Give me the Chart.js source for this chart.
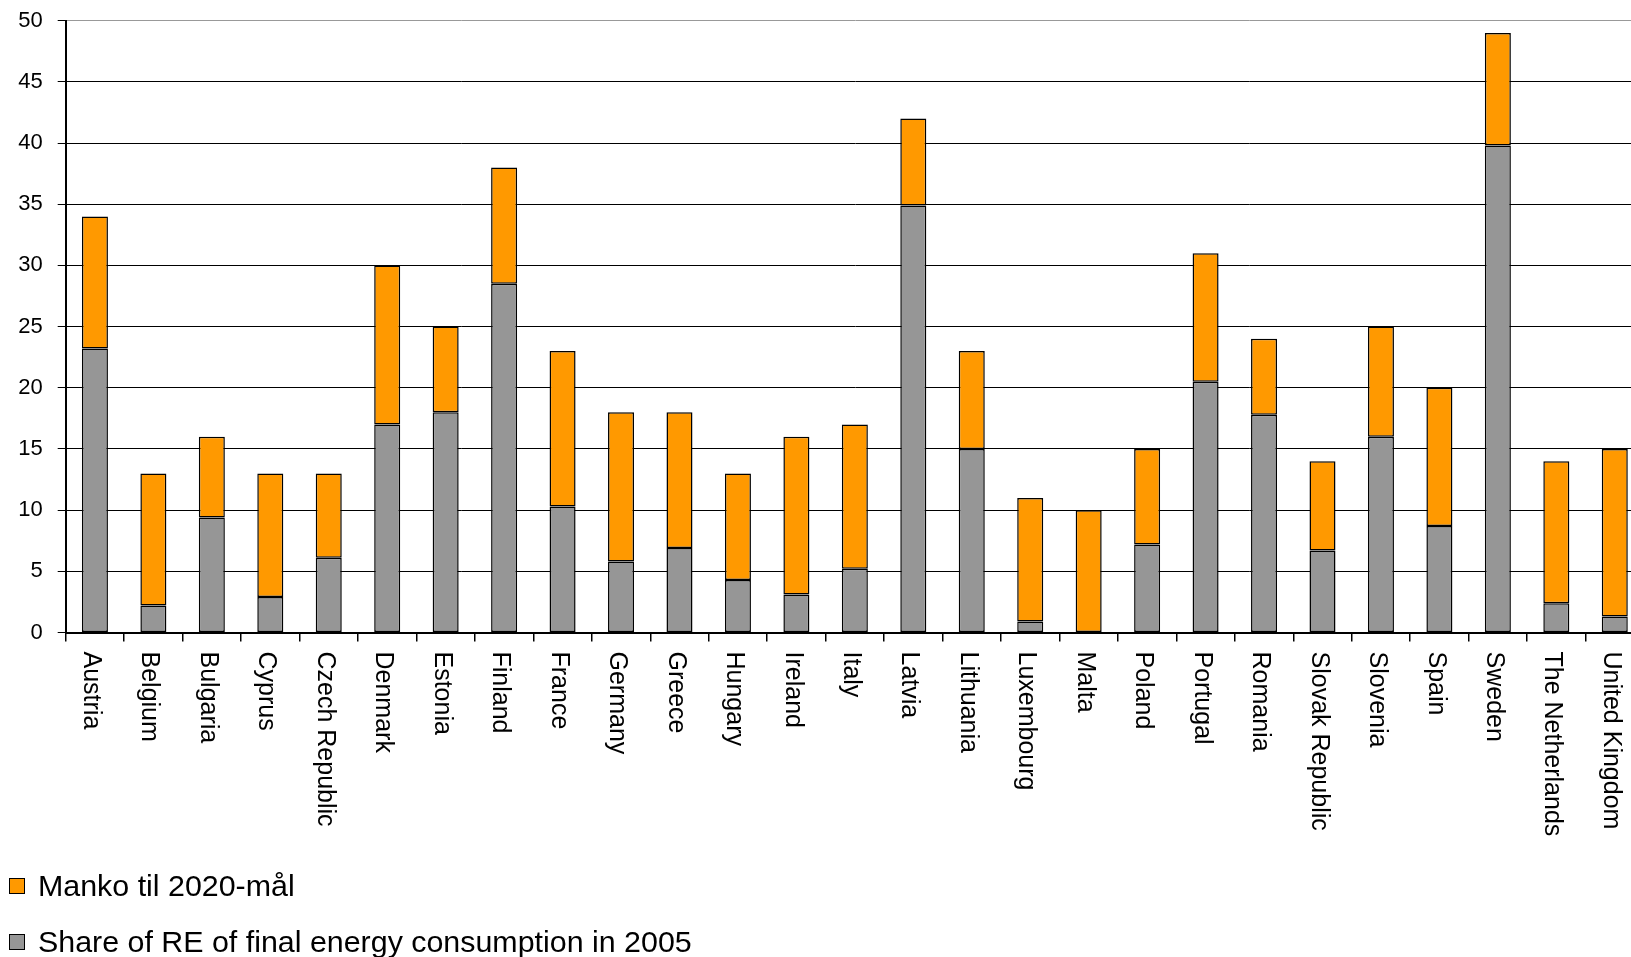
<!DOCTYPE html>
<html>
<head>
<meta charset="utf-8">
<script src="https://cdn.jsdelivr.net/npm/chart.js@4"></script>
<style>
  html, body { margin: 0; padding: 0; background: #fff; overflow: hidden; }
  #wrap { position: relative; width: 1644px; height: 957px; }
  #legend { position: absolute; left: 0; top: 0; font-family: "Liberation Sans", Arial, sans-serif; font-size: 29.5px; color: #000; }
  .item { position: absolute; left: 38px; white-space: nowrap; line-height: 29px; transform: scaleX(1.03); transform-origin: left center; }
  .box { position: absolute; width: 14px; height: 14px; border: 1px solid #000; }
</style>
</head>
<body>
<div id="wrap">
  <canvas id="chart" width="1644" height="957"></canvas>
  <div id="legend"></div>
</div>
<script>
// ====== Données ======
const countries = [
  "Austria", "Belgium", "Bulgaria", "Cyprus", "Czech Republic", "Denmark", "Estonia",
  "Finland", "France", "Germany", "Greece", "Hungary", "Ireland", "Italy", "Latvia",
  "Lithuania", "Luxembourg", "Malta", "Poland", "Portugal", "Romania", "Slovak Republic",
  "Slovenia", "Spain", "Sweden", "The Netherlands", "United Kingdom"
];

// part des renouvelables en 2005 (barre grise)
const share2005 = [
  23.2, 2.2, 9.4, 2.9, 6.1, 17.0, 18.0,
  28.5, 10.3, 5.8, 6.9, 4.3, 3.1, 5.2, 34.9,
  15.0, 0.9, 0.0, 7.2, 20.5, 17.8, 6.7,
  16.0, 8.7, 39.8, 2.4, 1.3
];

// manque jusqu'à l'objectif 2020 (barre orange)
const manko = [
  10.8, 10.8, 6.6, 10.1, 6.9, 13.0, 7.0,
  9.5, 12.7, 12.2, 11.1, 8.7, 12.9, 11.8, 7.1,
  8.0, 10.1, 10.0, 7.8, 10.5, 6.2, 7.3,
  9.0, 11.3, 9.2, 11.6, 13.7
];

const yTicks = [0, 5, 10, 15, 20, 25, 30, 35, 40, 45, 50];

const seriesShare = "Share of RE of final energy consumption in 2005";
const seriesManko = "Manko til 2020-mål";

const FONT = "'Liberation Sans', Arial, sans-serif";

// ====== Étiquettes de catégories tournées (haut -> bas) ======
const verticalLabels = {
  id: "verticalLabels",
  afterDraw(chart) {
    const ctx = chart.ctx;
    const x = chart.scales.x;
    ctx.save();
    ctx.font = "25px " + FONT;
    ctx.fillStyle = "#000";
    ctx.textAlign = "left";
    ctx.textBaseline = "middle";
    countries.forEach((name, i) => {
      const px = x.getPixelForValue(i) - 4;
      ctx.save();
      ctx.translate(px, x.top + 19);
      ctx.rotate(Math.PI / 2);
      ctx.fillText(name, 0, 0);
      ctx.restore();
    });
    ctx.restore();
  }
};

const chart = new Chart(document.getElementById("chart"), {
  type: "bar",
  data: {
    labels: countries,
    datasets: [
      {
        label: seriesShare,
        data: share2005,
        backgroundColor: "#969696",
        borderColor: "#000",
        borderWidth: 1.5,
        borderSkipped: false,
        stack: "s"
      },
      {
        label: seriesManko,
        data: manko,
        backgroundColor: "#ff9900",
        borderColor: "#000",
        borderWidth: 1.5,
        borderSkipped: false,
        stack: "s"
      }
    ]
  },
  options: {
    responsive: false,
    animation: false,
    devicePixelRatio: 1,
    layout: { padding: { top: 20.7, left: 0, right: 0, bottom: 0 } },
    datasets: { bar: { categoryPercentage: 1, barPercentage: 0.445 } },
    plugins: {
      legend: { display: false },
      tooltip: { enabled: false }
    },
    scales: {
      x: {
        stacked: true,
        afterFit: s => { s.height = 957 - 632.5; },
        grid: {
          offset: true,
          drawOnChartArea: false,
          drawTicks: true,
          tickLength: 9,
          color: "#000",
          lineWidth: 1.5
        },
        border: { color: "#000", width: 2 },
        ticks: { display: false }
      },
      y: {
        stacked: true,
        min: 0,
        max: 50,
        afterFit: s => { s.width = 65.7; s.paddingTop = 10; s.paddingBottom = 10; },
        afterBuildTicks: s => { s.ticks = yTicks.map(v => ({ value: v })); },
        grid: {
          color: c => (c.tick && c.tick.value === 50 ? "#999" : "#000"),
          lineWidth: 1,
          tickLength: 8,
          tickColor: "#000"
        },
        border: { color: "#000", width: 2 },
        ticks: {
          padding: 15,
          color: "#000",
          font: { family: FONT, size: 22 }
        }
      }
    }
  },
  plugins: [verticalLabels]
});

// ====== Légende HTML (deux lignes) ======
function renderLegend() {
  const el = document.getElementById("legend");
  const rows = [
    { label: seriesManko, color: "#ff9900", textTop: 871, boxTop: 878 },
    { label: seriesShare, color: "#969696", textTop: 927, boxTop: 934 }
  ];
  el.innerHTML = rows.map(r => `
    <div class="box" style="left:9px; top:${r.boxTop}px; background:${r.color}"></div>
    <div class="item" style="top:${r.textTop}px">${r.label}</div>
  `).join("");
}

renderLegend();
</script>
</body>
</html>
